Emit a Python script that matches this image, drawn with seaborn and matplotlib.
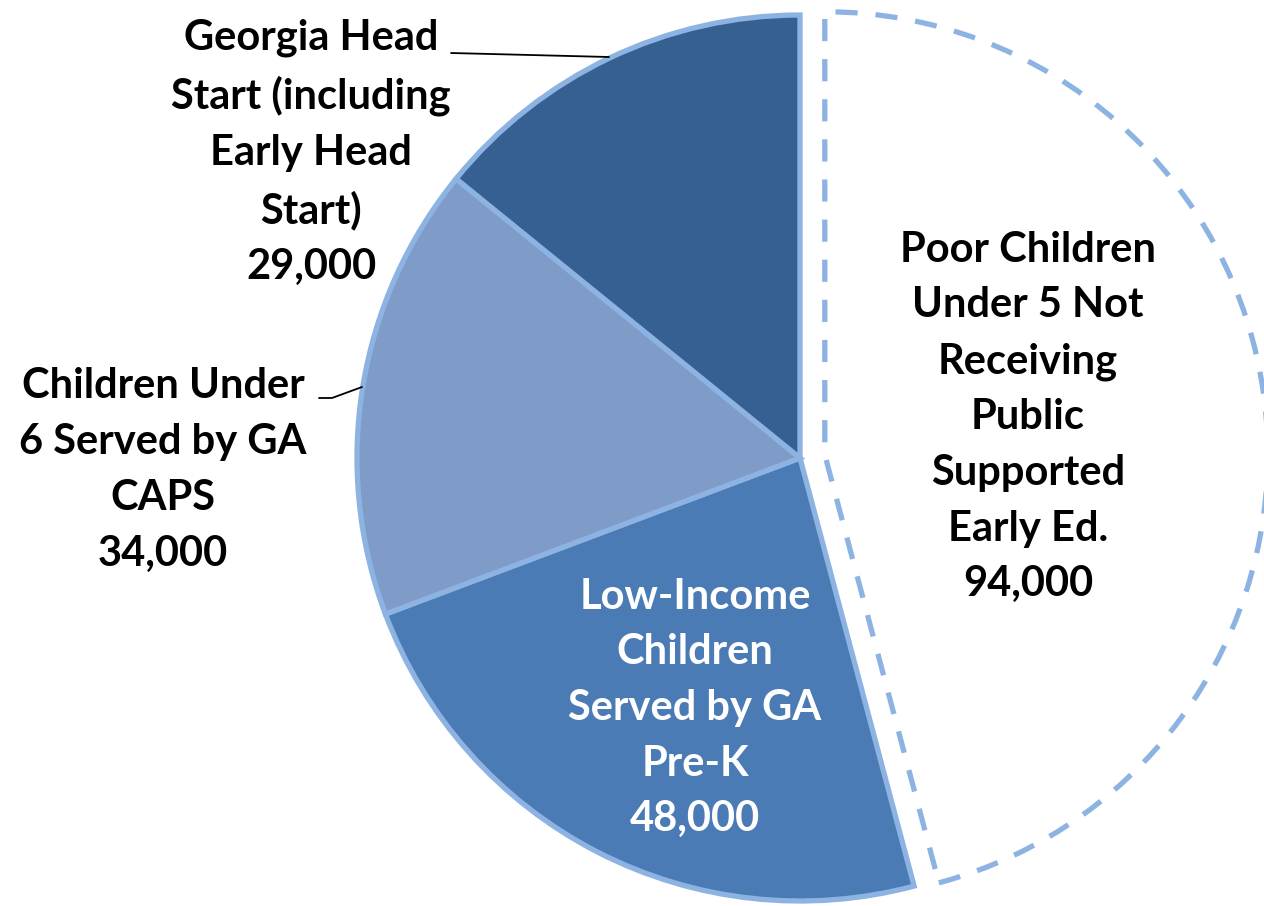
import matplotlib
matplotlib.use("Agg")
import matplotlib.pyplot as plt
import seaborn as sns

# data
categories = [
    "Poor Children\nUnder 5 Not\nReceiving\nPublic\nSupported\nEarly Ed.",
    "Low-Income\nChildren\nServed by GA\nPre-K",
    "Children Under\n6 Served by GA\nCAPS",
    "Georgia Head\nStart (including\nEarly Head\nStart)",
]
values = [94000, 48000, 34000, 29000]
colors = ["#FFFFFF", "#4A7BB5", "#7F9CC8", "#376092"]
text_colors = ["black", "white", "black", "black"]
edge = "#8DB3E2"

sns.set_style("white")
plt.rcParams["font.family"] = ["Lato", "DejaVu Sans"]

fig = plt.figure(figsize=(12.64, 9.06), dpi=100)
ax = fig.add_axes([0, 0, 1, 1])

# explode is in data units here (pixels)
wedges, _ = ax.pie(
    values,
    colors=colors,
    startangle=90,
    counterclock=False,
    explode=[25, 0, 0, 0],
    center=(800, 448),
    radius=443,
    frame=True,
    wedgeprops=dict(edgecolor=edge, linewidth=3.8),
)
wedges[0].set_linewidth(3.8)
wedges[0].set_linestyle((0, (4.2, 3.4)))
for w in wedges[1:]:
    w.set_zorder(3)

ax.set_xlim(0, 1264)
ax.set_ylim(0, 906)
ax.set_aspect("equal")
ax.axis("off")

# label positions (centre of each text block)
label_pos = [(1028, 489), (695, 198), (163, 436), (311, 754)]
for name, val, (x, y), c in zip(categories, values, label_pos, text_colors):
    ax.text(x, y, f"{name}\n{val:,}", ha="center", va="center",
            fontsize=30, fontweight="bold", color=c, linespacing=1.57,
            zorder=5)

# leader lines
ax.plot([451, 609], [853, 849], color="black", lw=1.3, zorder=5)
ax.plot([319, 332, 362], [508, 508, 519], color="black", lw=1.3, zorder=5)

fig.savefig("out.png", dpi=100)
